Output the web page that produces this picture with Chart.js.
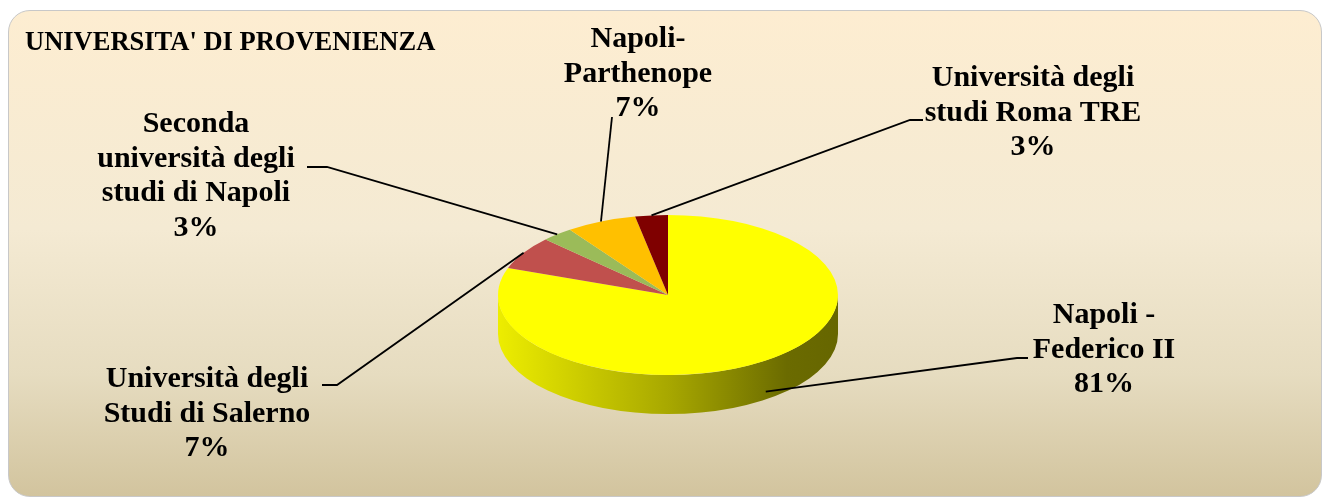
<!DOCTYPE html>
<html>
<head>
<meta charset="utf-8">
<script src="https://cdn.jsdelivr.net/npm/chart.js@4.4.0/dist/chart.umd.min.js"></script>
<style>
  html, body { margin: 0; padding: 0; background: #fff; }
  #box {
    position: absolute; left: 8px; top: 10px; width: 1312px; height: 485px;
    border: 1px solid #c8c8c8; border-radius: 22px;
    background: linear-gradient(to bottom, #fdedd1 0%, #f4ead3 45%, #e6dcc0 75%, #d2c49e 100%);
  }
  #chart { position: absolute; left: 0; top: 0; }
</style>
</head>
<body>
<div id="box"></div>
<canvas id="chart" width="1325" height="501"></canvas>
<script>
var titleText = "UNIVERSITA' DI PROVENIENZA";
var categories = [
  ["Napoli -", "Federico II"],
  ["Università degli", "Studi di Salerno"],
  ["Seconda", "università degli", "studi di Napoli"],
  ["Napoli-", "Parthenope"],
  ["Università degli", "studi Roma TRE"]
];
var shares = [80.5, 6.7, 3.0, 6.7, 3.1];
var colors = ["#ffff00", "#c0504d", "#9bbb59", "#ffc000", "#7f0000"];

// where each label sits and how its leader line bends
var labelLayout = [
  { x: 1104, y: 323, elbow: [1017, 358], end: [1028, 358] },
  { x: 207, y: 387, elbow: [337, 385], end: [322, 385] },
  { x: 196, y: 132, elbow: [327, 167], end: [307, 167] },
  { x: 638, y: 47, elbow: [612, 117], end: [612, 117] },
  { x: 1033, y: 86, elbow: [910, 120], end: [923, 120] }
];

var TILT = 80 / 170;
var DEPTH = 39;
var FONT = "bold 30px 'Liberation Serif', serif";

function shade(hex, f) {
  var n = parseInt(hex.slice(1), 16);
  var r = Math.round(((n >> 16) & 255) * f);
  var g = Math.round(((n >> 8) & 255) * f);
  var b = Math.round((n & 255) * f);
  return "rgb(" + r + "," + g + "," + b + ")";
}

var pie3d = {
  id: "pie3d",
  beforeDatasetsDraw: function (chart) {
    var ctx = chart.ctx;
    var meta = chart.getDatasetMeta(0);
    var c = meta.data[0].getProps(["x", "y", "outerRadius"], true);
    var ry = c.outerRadius * TILT;

    // side wall, only the front half is visible
    meta.data.forEach(function (arc, i) {
      var p = arc.getProps(["startAngle", "endAngle"], true);
      var s = Math.max(p.startAngle, 0);
      var e = Math.min(p.endAngle, Math.PI);
      if (e <= s) return;
      var grad = ctx.createLinearGradient(c.x - c.outerRadius, 0, c.x + c.outerRadius, 0);
      grad.addColorStop(0, shade(colors[i], 0.93));
      grad.addColorStop(0.5, shade(colors[i], 0.66));
      grad.addColorStop(0.85, shade(colors[i], 0.42));
      grad.addColorStop(1, shade(colors[i], 0.40));
      ctx.beginPath();
      ctx.ellipse(c.x, c.y, c.outerRadius, ry, 0, s, e);
      ctx.ellipse(c.x, c.y + DEPTH, c.outerRadius, ry, 0, e, s, true);
      ctx.closePath();
      ctx.fillStyle = grad;
      ctx.fill();
    });

    // squash the top face
    ctx.save();
    ctx.translate(0, c.y * (1 - TILT));
    ctx.scale(1, TILT);
  },
  afterDatasetsDraw: function (chart) {
    chart.ctx.restore();
  },
  afterDraw: function (chart) {
    var ctx = chart.ctx;
    var meta = chart.getDatasetMeta(0);
    var total = shares.reduce(function (a, b) { return a + b; }, 0);

    ctx.save();
    ctx.fillStyle = "#000";
    ctx.font = "bold 26.5px 'Liberation Serif', serif";
    ctx.textAlign = "left";
    ctx.textBaseline = "alphabetic";
    ctx.fillText(titleText, 25, 50);

    ctx.font = FONT;
    ctx.textAlign = "center";
    ctx.strokeStyle = "#000";
    ctx.lineWidth = 1.8;

    meta.data.forEach(function (arc, i) {
      var p = arc.getProps(["x", "y", "outerRadius", "startAngle", "endAngle"], true);
      var mid = (p.startAngle + p.endAngle) / 2;
      var ax = p.x + p.outerRadius * Math.cos(mid);
      var ay = p.y + p.outerRadius * TILT * Math.sin(mid);
      if (Math.sin(mid) > 0) ay += DEPTH * 0.8;
      var L = labelLayout[i];

      ctx.beginPath();
      ctx.moveTo(ax, ay);
      ctx.lineTo(L.elbow[0], L.elbow[1]);
      ctx.lineTo(L.end[0], L.end[1]);
      ctx.stroke();

      var lines = categories[i].concat([Math.round(shares[i] / total * 100) + "%"]);
      lines.forEach(function (t, k) {
        ctx.fillText(t, L.x, L.y + k * 34.5);
      });
    });
    ctx.restore();
  }
};

new Chart(document.getElementById("chart").getContext("2d"), {
  type: "pie",
  data: {
    labels: categories,
    datasets: [{
      data: shares,
      backgroundColor: colors,
      borderWidth: 0,
      clip: false
    }]
  },
  options: {
    responsive: false,
    devicePixelRatio: 1,
    animation: false,
    events: [],
    layout: { padding: { left: 498, right: 487, top: 125, bottom: 36 } },
    plugins: {
      legend: { display: false },
      tooltip: { enabled: false },
      title: { display: false }
    }
  },
  plugins: [pie3d]
});
</script>
</body>
</html>
